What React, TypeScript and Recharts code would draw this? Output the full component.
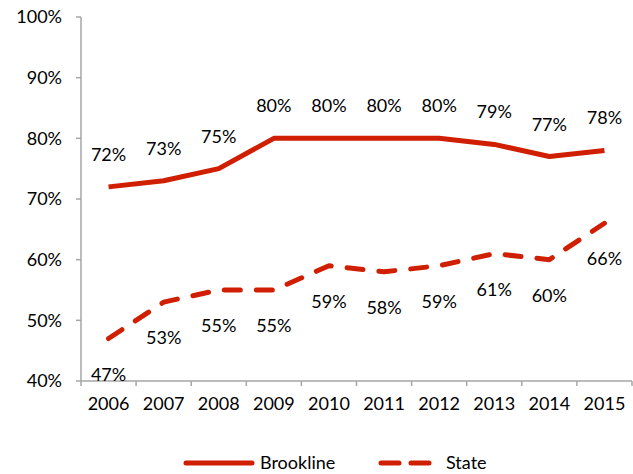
import React from 'react';
import { LineChart, Line, XAxis, YAxis, Legend, LabelList } from 'recharts';

const years = ['2006', '2007', '2008', '2009', '2010', '2011', '2012', '2013', '2014', '2015'];
const brookline = [72, 73, 75, 80, 80, 80, 80, 79, 77, 78];
const state = [47, 53, 55, 55, 59, 58, 59, 61, 60, 66];
const yTicks = [40, 50, 60, 70, 80, 90, 100];

const RED = '#D01E00';
const AXIS = '#A6A6A6';
const FONT = 'Lato, "Open Sans", sans-serif';
const BAND = 551 / years.length;

const data = years.map((year, i) => ({ year, brookline: brookline[i], state: state[i] }));

// Excel-style category ticks sit between the categories, not under them
const XTick = (props: any) => {
  const { x, y, payload, index, visibleTicksCount } = props;
  return (
    <g>
      <line x1={x - BAND / 2} x2={x - BAND / 2} y1={y - 8} y2={y - 3} stroke={AXIS} strokeWidth={1.5} />
      {index === visibleTicksCount - 1 && (
        <line x1={x + BAND / 2} x2={x + BAND / 2} y1={y - 8} y2={y - 3} stroke={AXIS} strokeWidth={1.5} />
      )}
      <text x={x} y={y + 21} textAnchor="middle" fontSize={18} fill="#000" fontFamily={FONT}>
        {payload.value}
      </text>
    </g>
  );
};

const makeLabel = (dy: number) => (props: any) => {
  const { x, y, value } = props;
  return (
    <text x={x} y={y + dy} textAnchor="middle" fontSize={18} fill="#000" fontFamily={FONT}>
      {value}%
    </text>
  );
};

const LegendContent = () => (
  <svg width={633} height={53}>
    <line x1={186} x2={252} y1={42} y2={42} stroke={RED} strokeWidth={5} strokeLinecap="round" />
    <text x={260} y={48} fontSize={18} fill="#000" fontFamily={FONT}>Brookline</text>
    <line x1={381} x2={433} y1={42} y2={42} stroke={RED} strokeWidth={5} strokeLinecap="round" strokeDasharray="18 12" />
    <text x={446} y={48} fontSize={18} fill="#000" fontFamily={FONT}>State</text>
  </svg>
);

export default function App() {
  return (
    <div style={{ position: 'absolute', left: 0, top: 0, background: '#fff' }}>
      <LineChart width={633} height={474} data={data} margin={{ top: 17, right: 1, left: 0, bottom: 0 }}>
        <XAxis
          dataKey="year"
          stroke={AXIS}
          strokeWidth={1.5}
          tickLine={false}
          height={40}
          tick={<XTick />}
          interval={0}
          padding={{ left: BAND / 2, right: BAND / 2 }}
        />
        <YAxis
          domain={[40, 100]}
          ticks={yTicks}
          width={81}
          stroke={AXIS}
          strokeWidth={1.5}
          tickSize={5}
          tickMargin={14}
          tickFormatter={(v: number) => `${v}%`}
          tick={{ fontSize: 18, fill: '#000', fontFamily: FONT }}
        />
        <Legend verticalAlign="bottom" height={53} content={<LegendContent />} />
        <Line
          type="linear"
          dataKey="brookline"
          name="Brookline"
          stroke={RED}
          strokeWidth={5}
          strokeLinejoin="round"
          dot={false}
          isAnimationActive={false}
        >
          <LabelList dataKey="brookline" content={makeLabel(-26)} />
        </Line>
        <Line
          type="linear"
          dataKey="state"
          name="State"
          stroke={RED}
          strokeWidth={5}
          strokeDasharray="16 16"
          strokeLinecap="round"
          strokeLinejoin="round"
          dot={false}
          isAnimationActive={false}
        >
          <LabelList dataKey="state" content={makeLabel(42)} />
        </Line>
      </LineChart>
    </div>
  );
}
